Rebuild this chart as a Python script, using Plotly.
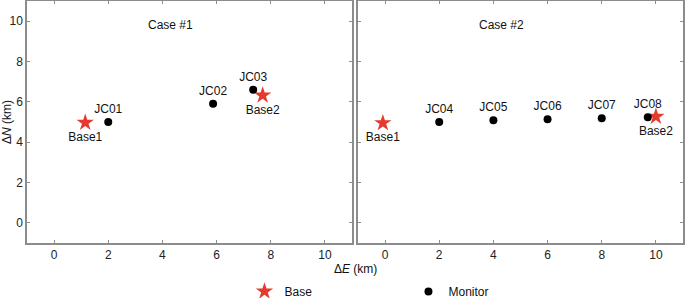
import plotly.graph_objects as go

# ---- data ----
case1_base_names = ["Base1", "Base2"]
case1_base_e = [1.15, 7.7]
case1_base_n = [4.97, 6.32]

case1_mon_names = ["JC01", "JC02", "JC03"]
case1_mon_e = [2.0, 5.87, 7.35]
case1_mon_n = [5.0, 5.9, 6.6]

case2_base_names = ["Base1", "Base2"]
case2_base_e = [-0.08, 10.0]
case2_base_n = [4.95, 5.27]

case2_mon_names = ["JC04", "JC05", "JC06", "JC07", "JC08"]
case2_mon_e = [2.0, 4.0, 6.0, 8.0, 9.7]
case2_mon_n = [5.0, 5.09, 5.14, 5.18, 5.23]

panel_titles = ["Case #1", "Case #2"]
ticks = [0, 2, 4, 6, 8, 10]

RED = "#e53a2e"
FRAME = "#8c8c8c"
FONT = "Liberation Sans, Arial, sans-serif"

fig = go.Figure()

def add_case(be, bn, bnames, me, mn, mnames, xa, ya, show):
    fig.add_trace(go.Scatter(
        x=be, y=bn, text=bnames, mode="markers+text", textposition="bottom center",
        marker=dict(symbol="star", size=13, color=RED, line=dict(width=0)),
        textfont=dict(size=12, color="#111", family=FONT), cliponaxis=False,
        name="Base", legendgroup="base", showlegend=show, xaxis=xa, yaxis=ya))
    fig.add_trace(go.Scatter(
        x=me, y=mn, text=mnames, mode="markers+text", textposition="top center",
        marker=dict(symbol="circle", size=8, color="black", line=dict(width=0)),
        textfont=dict(size=12, color="#111", family=FONT), cliponaxis=False,
        name="Monitor", legendgroup="mon", showlegend=show, xaxis=xa, yaxis=ya))

add_case(case1_base_e, case1_base_n, case1_base_names,
         case1_mon_e, case1_mon_n, case1_mon_names, "x", "y", True)
add_case(case2_base_e, case2_base_n, case2_base_names,
         case2_mon_e, case2_mon_n, case2_mon_names, "x2", "y2", False)

axis_common = dict(range=[-1, 11], tickvals=ticks, ticks="inside", ticklen=3,
                   tickwidth=1, tickcolor=FRAME, showline=True, linecolor=FRAME,
                   linewidth=1.5, mirror="ticks", showgrid=False, zeroline=False,
                   automargin=False,
                   tickfont=dict(size=12, color="#222", family=FONT))

fig.update_layout(
    width=685, height=298,
    margin=dict(l=27, r=2, t=1, b=55, autoexpand=False),
    paper_bgcolor="white", plot_bgcolor="white",
    font=dict(family=FONT, size=12, color="#111"),
    xaxis=dict(domain=[0, 0.4955], anchor="y", **axis_common),
    yaxis=dict(domain=[0, 1], anchor="x",
               title=dict(text="Δ<i>N</i> (km)", font=dict(size=12, color="#111"), standoff=2),
               **axis_common),
    xaxis2=dict(domain=[0.5045, 1], anchor="y2", **axis_common),
    yaxis2=dict(domain=[0, 1], anchor="x2", showticklabels=False, **axis_common),
    legend=dict(orientation="h", x=0.3315, xanchor="left", y=-0.14, yanchor="top",
                entrywidth=119, entrywidthmode="pixels", tracegroupgap=0,
                font=dict(size=12, color="#111", family=FONT), bgcolor="rgba(0,0,0,0)"),
    showlegend=True,
)

fig.add_annotation(text=panel_titles[0], x=4.3, y=9.8, xref="x", yref="y",
                   showarrow=False, font=dict(size=12, color="#111"))
fig.add_annotation(text=panel_titles[1], x=4.3, y=9.8, xref="x2", yref="y2",
                   showarrow=False, font=dict(size=12, color="#111"))
fig.add_annotation(text="Δ<i>E</i> (km)", x=(355 - 27) / 656, y=-0.108,
                   xref="paper", yref="paper", showarrow=False,
                   xanchor="center", yanchor="middle", font=dict(size=12, color="#111"))

fig.write_html("out.html", config={"displayModeBar": False},
               post_script="document.body.style.margin='0';document.body.style.overflow='hidden';")
